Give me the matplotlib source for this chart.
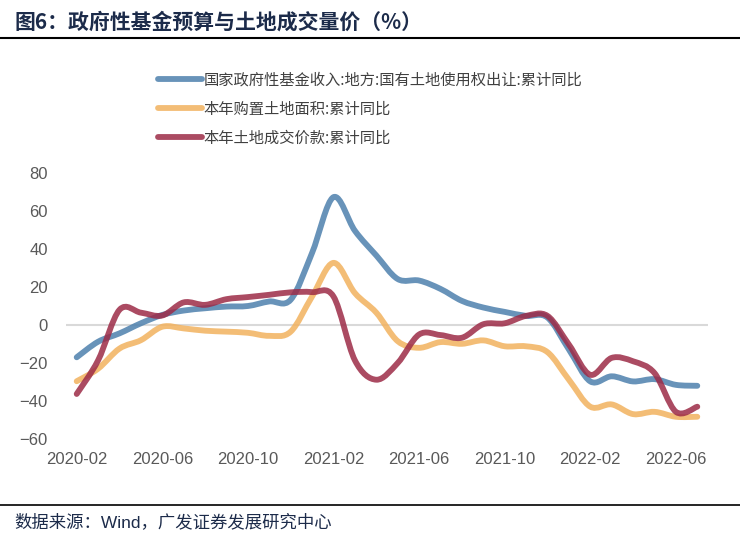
import numpy as np
import pandas as pd
import matplotlib
matplotlib.use('Agg')
import matplotlib.pyplot as plt
from matplotlib.path import Path
from matplotlib.patches import PathPatch
from matplotlib.lines import Line2D

plt.rcParams['font.family'] = ['Liberation Sans', 'Noto Sans CJK SC', 'DejaVu Sans']

# monthly x axis, 2020-02 .. 2022-07
months = pd.date_range('2020-02-01', '2022-07-01', freq='MS').strftime('%Y-%m').tolist()

land_transfer = [-17, -8.8, -4.4, 0.9, 5.3, 7.6, 8.8, 9.7, 10.0, 12.4, 13.3, 38, 67.3, 49.6,
                 36.6, 24.2, 23.4, 19, 12.7, 9.2, 6.9, 4.8, 3.9, -12.9, -29.7, -27, -29.7,
                 -28.5, -31.5, -32]
land_area = [-29.6, -23, -12.4, -8, -0.9, -1.8, -3, -3.5, -4.1, -5.7, -3.5, 15, 32.7, 16.8,
             6.5, -8.5, -12, -9, -9.9, -8.1, -11.2, -11.2, -14.3, -28.8, -43, -41.8, -46.9,
             -45.7, -48.3, -48.3]
land_price = [-36.3, -18.6, 8, 6.5, 5, 11.9, 10.6, 13.6, 14.7, 15.9, 17.2, 17.3, 15, -18.6,
              -28.8, -20, -5, -5.3, -6.7, 0.4, 0.9, 4.8, 4.8, -10.3, -26.2, -17.3, -19.1,
              -25.3, -45.7, -43]

labels = ['国家政府性基金收入:地方:国有土地使用权出让:累计同比',
          '本年购置土地面积:累计同比',
          '本年土地成交价款:累计同比']
colors = ['#4d80ad', '#f2b25e', '#9c2b47']


def smooth_path(x, y, t=1.0):
    # bezier curve through the points (excel-like smoothed line)
    pts = np.column_stack([x, y]).astype(float)
    n = len(pts)
    verts = [pts[0]]
    codes = [Path.MOVETO]
    for i in range(n - 1):
        p0 = pts[i - 1] if i > 0 else pts[i]
        p1, p2 = pts[i], pts[i + 1]
        p3 = pts[i + 2] if i + 2 < n else pts[i + 1]
        c1 = p1 + (p2 - p0) / 6 * t
        c2 = p2 - (p3 - p1) / 6 * t
        verts += [c1, c2, p2]
        codes += [Path.CURVE4] * 3
    return Path(verts, codes)


fig = plt.figure(figsize=(7.4, 5.36), dpi=100)
ax = fig.add_axes([66 / 740, 1 - 439 / 536, 642 / 740, 266 / 536])

x = np.arange(len(months))
ax.axhline(0, color='#d9d9d9', lw=1.5, zorder=1)
for series, c in zip([land_transfer, land_area, land_price], colors):
    patch = PathPatch(smooth_path(x, series), facecolor='none', edgecolor=c, lw=4.2,
                      alpha=0.85, capstyle='round', joinstyle='round', zorder=3)
    ax.add_patch(patch)

ax.set_xlim(-0.5, len(months) - 0.5)
ax.set_ylim(-60, 80)
ax.set_yticks(np.arange(-60, 81, 20))
ax.set_xticks(x[::4])
ax.set_xticklabels(months[::4])
ax.tick_params(length=0, labelsize=12, labelcolor='#595959')
ax.tick_params(axis='x', pad=9)
ax.tick_params(axis='y', pad=13)
for s in ax.spines.values():
    s.set_visible(False)

handles = [Line2D([], [], color=c, lw=4.2, alpha=0.85, solid_capstyle='round') for c in colors]
fig.legend(handles, labels, loc='upper left', bbox_to_anchor=(150 / 740, 1 - 64 / 536),
           frameon=False, borderpad=0, handlelength=2.9, handletextpad=0.1,
           labelspacing=0.78, prop={'family': ['Noto Sans CJK SC'], 'size': 11},
           labelcolor='#404040')

# title, separator lines and source note
fig.text(14 / 740, 1 - 22 / 536, '图6：政府性基金预算与土地成交量价（%）', fontsize=15,
         fontweight='bold', color='#1c2b4a', va='center', family=['Noto Sans CJK SC'])
fig.add_artist(Line2D([0, 1], [1 - 38 / 536] * 2, color='black', lw=1.5))
fig.add_artist(Line2D([0, 1], [1 - 505 / 536] * 2, color='black', lw=1.2))
fig.text(14 / 740, 1 - 522 / 536, '数据来源：Wind，广发证券发展研究中心', fontsize=12.5,
         color='#1c2b4a', va='center', family=['Liberation Sans', 'Noto Sans CJK SC'])

fig.savefig('out.png', dpi=100)
